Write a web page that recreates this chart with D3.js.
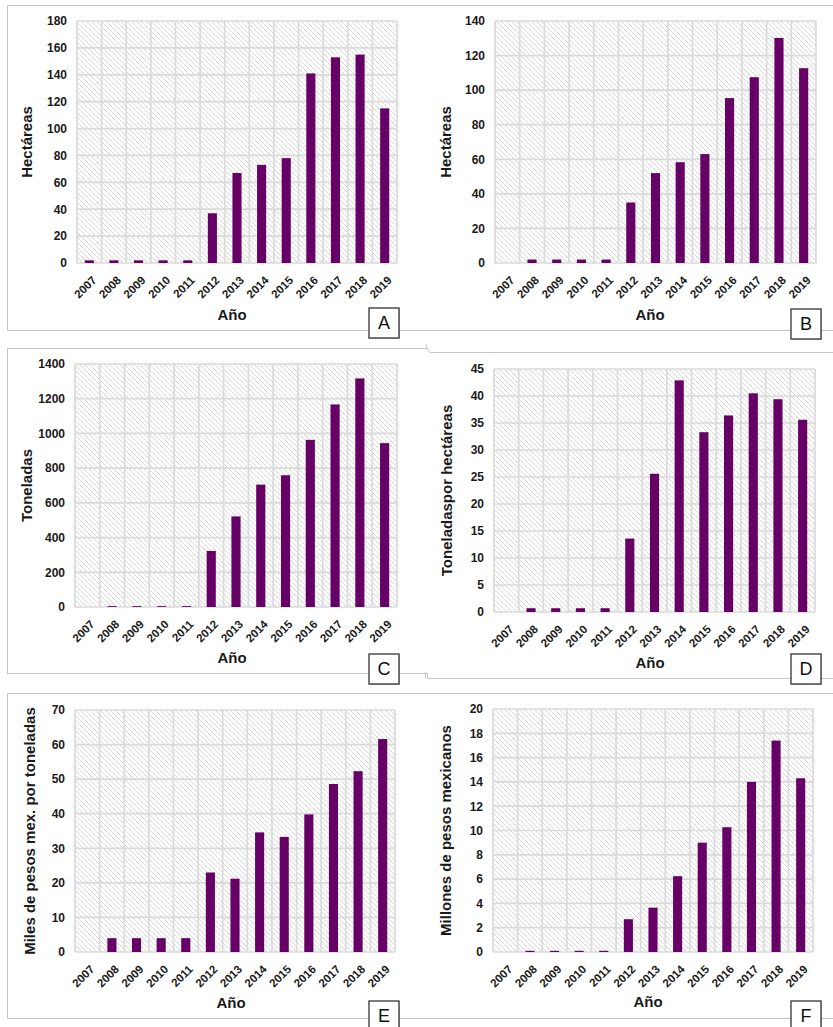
<!DOCTYPE html>
<html>
<head>
<meta charset="utf-8">
<script src="https://cdn.jsdelivr.net/npm/d3@7"></script>
<style>
  html, body { margin: 0; padding: 0; background: #fff; }
  svg { display: block; }
  .tick-y { font-family: "Liberation Sans", Arial, sans-serif; font-weight: bold; font-size: 12px; fill: #1a1a1a; }
  .tick-x { font-family: "Liberation Sans", Arial, sans-serif; font-weight: bold; font-size: 11.5px; fill: #1a1a1a; }
  .title { font-family: "Liberation Sans", Arial, sans-serif; font-weight: bold; font-size: 15px; fill: #1a1a1a; }
  .tag { font-family: "Liberation Sans", Arial, sans-serif; font-size: 18px; fill: #111; }
</style>
</head>
<body>
<script>
// ---------- DATA ----------
const years = ['2007','2008','2009','2010','2011','2012','2013','2014','2015','2016','2017','2018','2019'];

// A: superficie sembrada (hectáreas)
const hectareasA = [2, 2, 2, 2, 2, 37, 67, 73, 78, 141, 153, 155, 115];
// B: superficie cosechada (hectáreas)
const hectareasB = [null, 2, 2, 2, 2, 35, 52, 58.3, 63, 95.4, 107.5, 130.2, 112.7];
// C: producción (toneladas)
const toneladasC = [null, 5, 5, 5, 5, 323, 522, 705, 759, 963, 1167, 1317, 944];
// D: rendimiento (toneladas por hectárea)
const rendimientoD = [null, 0.7, 0.7, 0.7, 0.7, 13.6, 25.6, 42.9, 33.3, 36.4, 40.5, 39.4, 35.6];
// E: precio medio rural (miles de pesos por tonelada)
const precioE = [null, 4, 4, 4, 4, 23, 21.2, 34.6, 33.3, 39.8, 48.6, 52.3, 61.6];
// F: valor de la producción (millones de pesos)
const valorF = [null, 0.1, 0.1, 0.1, 0.1, 2.7, 3.65, 6.24, 9.0, 10.27, 14.0, 17.4, 14.3];

const ticksA = [0, 20, 40, 60, 80, 100, 120, 140, 160, 180];
const ticksB = [0, 20, 40, 60, 80, 100, 120, 140];
const ticksC = [0, 200, 400, 600, 800, 1000, 1200, 1400];
const ticksD = [0, 5, 10, 15, 20, 25, 30, 35, 40, 45];
const ticksE = [0, 10, 20, 30, 40, 50, 60, 70];
const ticksF = [0, 2, 4, 6, 8, 10, 12, 14, 16, 18, 20];

const yTitles = ['Hectáreas', 'Hectáreas', 'Toneladas', 'Toneladaspor  hectáreas',
                 'Miles de pesos mex. por  toneladas', 'Millones de pesos mexicanos'];
const xTitle = 'Año';
const tags = ['A', 'B', 'C', 'D', 'E', 'F'];

// ---------- LAYOUT ----------
const W = 833, H = 1027;
const svg = d3.select('body').append('svg').attr('width', W).attr('height', H);

const defs = svg.append('defs');
const pat = defs.append('pattern')
  .attr('id', 'hatch').attr('patternUnits', 'userSpaceOnUse')
  .attr('width', 5).attr('height', 5);
pat.append('rect').attr('width', 5).attr('height', 5).attr('fill', '#ffffff');
pat.append('path')
  .attr('d', 'M0,0 L5,5 M-1,4 L1,6 M4,-1 L6,1')
  .attr('stroke', '#d0d0d0').attr('stroke-width', 0.8);

// panel frames (decorative)
const frame = svg.append('g').attr('fill', 'none').attr('stroke', '#c6c6c6').attr('stroke-width', 1);
const fl = (d) => frame.append('path').attr('d', d);
fl('M7,5.5 H833');
fl('M7.5,5 V330');
fl('M7,330.5 H833');
fl('M7,348.5 H427.5 M7.5,348 V673 M7,673.5 H427.5 V678.5 H833');
fl('M426,344 Q427,352.5 431,352.5 H833');
fl('M425.5,672 V678');
fl('M7,693.5 H833');
fl('M7.5,693 V1018');
fl('M7,1018.5 H833');

const panels = [
  { values: hectareasA, ticks: ticksA, l: 77,  r: 397, t: 21,  b: 263, tx: 27,  ax: 232, ay: 315, bx: 369, by: 308 },
  { values: hectareasB, ticks: ticksB, l: 495, r: 816, t: 21,  b: 263, tx: 446, ax: 650, ay: 315, bx: 791, by: 309 },
  { values: toneladasC, ticks: ticksC, l: 75,  r: 397, t: 364, b: 607, tx: 27,  ax: 232, ay: 658, bx: 369, by: 654 },
  { values: rendimientoD, ticks: ticksD, l: 494, r: 815, t: 369, b: 612, tx: 447, ax: 650, ay: 663, bx: 791, by: 654 },
  { values: precioE, ticks: ticksE, l: 75,  r: 395, t: 710, b: 952, tx: 30,  ax: 231, ay: 1003, bx: 369, by: 1001 },
  { values: valorF, ticks: ticksF, l: 493, r: 813, t: 709, b: 952, tx: 446, ax: 648, ay: 1002, bx: 791, by: 1001 }
];

panels.forEach((p, i) => {
  const g = svg.append('g');
  const x = d3.scaleBand().domain(years).range([p.l, p.r]).paddingInner(0.63).paddingOuter(0.315);
  const yMax = p.ticks[p.ticks.length - 1];
  const y = d3.scaleLinear().domain([0, yMax]).range([p.b, p.t]);

  // plot area with hatch
  g.append('rect').attr('x', p.l).attr('y', p.t).attr('width', p.r - p.l).attr('height', p.b - p.t)
    .attr('fill', 'url(#hatch)');

  // gridlines
  const grid = g.append('g').attr('stroke', '#dadada').attr('stroke-width', 1.7);
  grid.selectAll('line.h').data(p.ticks).join('line')
    .attr('x1', p.l).attr('x2', p.r)
    .attr('y1', d => y(d)).attr('y2', d => y(d));
  const step = x.step();
  grid.selectAll('line.v').data(d3.range(years.length + 1)).join('line')
    .attr('y1', p.t).attr('y2', p.b)
    .attr('x1', k => p.l + k * step).attr('x2', k => p.l + k * step);

  // bars
  g.append('g').selectAll('rect').data(years.map((yr, k) => ({ yr, v: p.values[k] })).filter(d => d.v != null))
    .join('rect')
    .attr('x', d => x(d.yr)).attr('width', x.bandwidth())
    .attr('y', d => y(d.v)).attr('height', d => y(0) - y(d.v))
    .attr('fill', '#660066');

  // y axis
  const ya = g.append('g').attr('transform', `translate(${p.l},0)`)
    .call(d3.axisLeft(y).tickValues(p.ticks).tickFormat(d3.format('d')).tickSize(0).tickPadding(10));
  ya.select('.domain').remove();
  ya.selectAll('text').attr('class', 'tick-y').attr('fill', null);
  ya.attr('font-size', null).attr('font-family', null);

  // x tick labels, rotated -45°
  const lab = g.append('g').selectAll('g').data(years).join('g')
    .attr('transform', d => `translate(${x(d) + x.bandwidth() / 2 + 5},${p.b + 15}) rotate(-45)`);
  lab.append('text')
    .attr('class', 'tick-x')
    .attr('text-anchor', 'end')
    .attr('dy', '0.35em')
    .text(d => d);

  // titles
  g.append('text').attr('class', 'title').attr('text-anchor', 'middle')
    .attr('transform', `translate(${p.tx},${(p.t + p.b) / 2}) rotate(-90)`).attr('dy', '0.35em')
    .text(yTitles[i]);
  g.append('text').attr('class', 'title').attr('text-anchor', 'middle')
    .attr('x', p.ax).attr('y', p.ay).attr('dy', '0.35em').text(xTitle);

  // tag box
  g.append('rect').attr('x', p.bx + 1).attr('y', p.by + 1).attr('width', 30).attr('height', 30).attr('fill', '#999').attr('opacity', 0.5);
  g.append('rect').attr('x', p.bx).attr('y', p.by).attr('width', 30).attr('height', 30)
    .attr('fill', '#fff').attr('stroke', '#333').attr('stroke-width', 1.3);
  g.append('text').attr('class', 'tag').attr('text-anchor', 'middle')
    .attr('x', p.bx + 15).attr('y', p.by + 15).attr('dy', '0.36em').text(tags[i]);
});
</script>
</body>
</html>
